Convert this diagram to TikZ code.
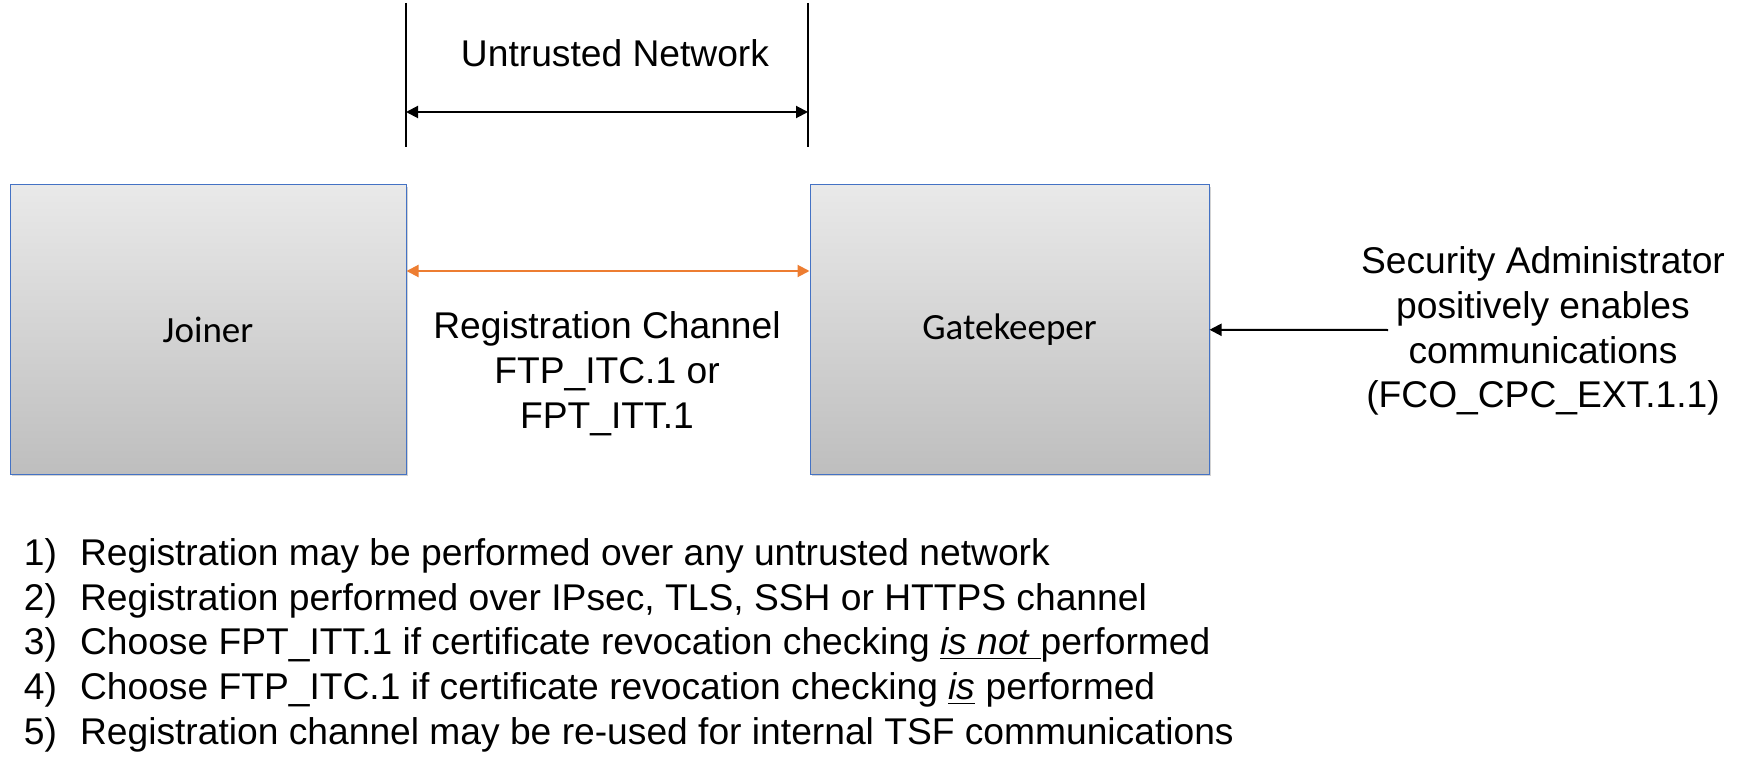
\documentclass[tikz,border=0pt]{standalone}
\usepackage{fontspec}
\setmainfont{Liberation Sans}
\newfontfamily\boxfont{Carlito}
\usetikzlibrary{arrows.meta,shadows}

\definecolor{boxtop}{RGB}{233,233,233}
\definecolor{boxbot}{RGB}{190,190,190}
\definecolor{boxline}{RGB}{68,114,196}
\definecolor{chan}{RGB}{237,125,49}

\begin{document}
\begin{tikzpicture}[x = 0.5pt, y = -0.5pt, line width = 1pt,
		device/.style = {draw = boxline, line width = 0.5pt, top color = boxtop, bottom color = boxbot,
			minimum width = 198pt, minimum height = 144.5pt, inner sep = 0pt,
			drop shadow = {opacity = 0.35, shadow xshift = 1.2pt, shadow yshift = -1.2pt},
			font = \boxfont\fontsize{18.5}{22}\selectfont},
		txt/.style = {align = center, inner sep = 0pt, font = \fontsize{18.6}{22.4}\selectfont},
		tip/.style = {-{Triangle[length = 6pt, width = 6pt]}},
		tips/.style = {{Triangle[length = 6pt, width = 6pt]}-{Triangle[length = 6pt, width = 6pt]}}]

		\useasboundingbox (0,0) rectangle (1760,775);

		% boxes
		\node [device] (joiner) at (208,329.5) {Joiner};
		\node [device, minimum width = 199.5pt] (gatekeeper) at (1009.5,329.5) {Gatekeeper};

		% untrusted network span
		\coordinate (nl top) at (406,3);
		\coordinate (nl bot) at (406,147);
		\coordinate (nr top) at (808,3);
		\coordinate (nr bot) at (808,147);
		\coordinate (nl) at (406,112);
		\coordinate (nr) at (808,112);
		\draw (nl top) -- (nl bot);
		\draw (nr top) -- (nr bot);
		\draw [tips] (nl) -- (nr);
		\node [txt] (untrusted) at (615,53) {Untrusted Network};

		% registration channel
		\draw [tips, draw = chan, fill = chan] ([yshift = 29.25pt]joiner.east) -- ([yshift = 29.25pt]gatekeeper.west);
		\node [txt] (channel) at (607,374) {Registration Channel\\FTP\_ITC.1 or\\FPT\_ITT.1};

		% administrator
		\node [txt] (admin) at (1543,331) {Security Administrator\\positively enables\\communications\\(FCO\_CPC\_EXT.1.1)};
		\coordinate (admin in) at (1388,330);
		\draw [tip] (admin in) -- (gatekeeper);

		% notes
		\node [txt, align = left, anchor = west] (notes) at (23,646) {%
			\begin{tabular}{@{}l@{\hspace{11.5pt}}l@{}}
				1) & Registration may be performed over any untrusted network\\
				2) & Registration performed over IPsec, TLS, SSH or HTTPS channel\\
				3) & Choose FPT\_ITT.1 if certificate revocation checking \underline{\textit{is not }}performed\\
				4) & Choose FTP\_ITC.1 if certificate revocation checking \underline{\textit{is}} performed\\
				5) & Registration channel may be re-used for internal TSF communications
			\end{tabular}};

		\end{tikzpicture}
\end{document}
